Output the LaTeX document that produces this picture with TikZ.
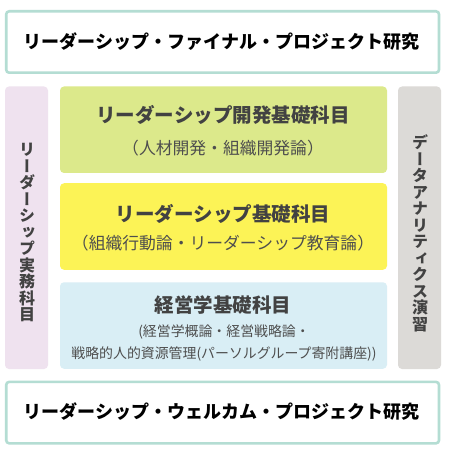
\documentclass[tikz,border=0pt]{standalone}
\usepackage{fontspec}
\setmainfont{Noto Sans CJK JP}
\newfontfamily\jp{Noto Sans CJK JP}
\newfontfamily\vjp[RawFeature=+vert]{Noto Sans CJK JP}
\definecolor{tealedge}{HTML}{B4DDD3}
\definecolor{pinkfill}{HTML}{EFE2EF}
\definecolor{greenfill}{HTML}{DCE98B}
\definecolor{yellowfill}{HTML}{FCF356}
\definecolor{bluefill}{HTML}{D9EEF5}
\definecolor{grayfill}{HTML}{DCDAD7}
\definecolor{darktext}{HTML}{424242}
\definecolor{subtext}{HTML}{4E4E4E}
\tikzset{
  framebox/.style={draw=tealedge, line width=2.6pt, fill=white, rounded corners=3pt, inner sep=0pt},
  colbox/.style={rounded corners=4pt, inner sep=0pt, minimum width=327pt, minimum height=86.5pt},
  pillar/.style={rounded corners=4pt, inner sep=0pt, minimum width=43pt, minimum height=282.5pt},
  bandtitle/.style={font=\jp\bfseries\fontsize{18}{20}\selectfont, text=black, inner sep=0pt},
  coltitle/.style={font=\jp\bfseries\fontsize{19.5}{22}\selectfont, text=darktext, inner sep=0pt},
  colsub/.style={font=\jp\fontsize{16.8}{20}\selectfont, text=subtext, inner sep=0pt},
  colsubsmall/.style={font=\jp\fontsize{13.9}{22}\selectfont, text=subtext, inner sep=0pt, align=center},
  vtext/.style={font=\vjp\bfseries\fontsize{16}{16.5}\selectfont, text=darktext, inner sep=0pt, align=center}
}
\begin{document}
\begin{tikzpicture}[x=1pt,y=-1pt]
\useasboundingbox (0,0) rectangle (452,454);
\fill[white] (0,0) rectangle (452,454);
% top and bottom bands
\node[framebox, minimum width=432.8pt, minimum height=61.4pt] (topband) at (222.6,42) {};
\node[framebox, minimum width=432.8pt, minimum height=61.4pt] (botband) at (222.6,412.6) {};
% pillars
\node[pillar, fill=pinkfill] (leftpillar) at (26.5,227.75) {};
\node[pillar, fill=grayfill] (rightpillar) at (419.5,227.75) {};
% coloured boxes
\node[colbox, fill=greenfill] (greenbox) at (223.5,129.75) {};
\node[colbox, fill=yellowfill] (yellowbox) at (223.5,226.5) {};
\node[colbox, fill=bluefill] (bluebox) at (223.5,325.5) {};
% texts
\node[bandtitle] (toptext) at (221.5,41.5) {リーダーシップ・ファイナル・プロジェクト研究};
\node[bandtitle] (bottext) at (221.5,411.5) {リーダーシップ・ウェルカム・プロジェクト研究};
\node[coltitle] (greentitle) at (223,115) {リーダーシップ開発基礎科目};
\node[colsub] (greensub) at (223,148.5) {（人材開発・組織開発論）};
\node[coltitle] (yellowtitle) at (223,213.5) {リーダーシップ基礎科目};
\node[colsub] (yellowsub) at (223,243.5) {（組織行動論・リーダーシップ教育論）};
\node[coltitle] (bluetitle) at (223,305) {経営学基礎科目};
\node[colsubsmall] (bluesub) at (224,342.5) {(経営学概論・経営戦略論・\\戦略的人的資源管理(パーソルグループ寄附講座))};
\node[vtext] (lefttext) at (27,232.5) {リ\\ー\\ダ\\ー\\シ\\ッ\\プ\\実\\務\\科\\目};
\node[vtext] (righttext) at (420,233.5) {デ\\ー\\タ\\ア\\ナ\\リ\\テ\\ィ\\ク\\ス\\演\\習};
\end{tikzpicture}
\end{document}
